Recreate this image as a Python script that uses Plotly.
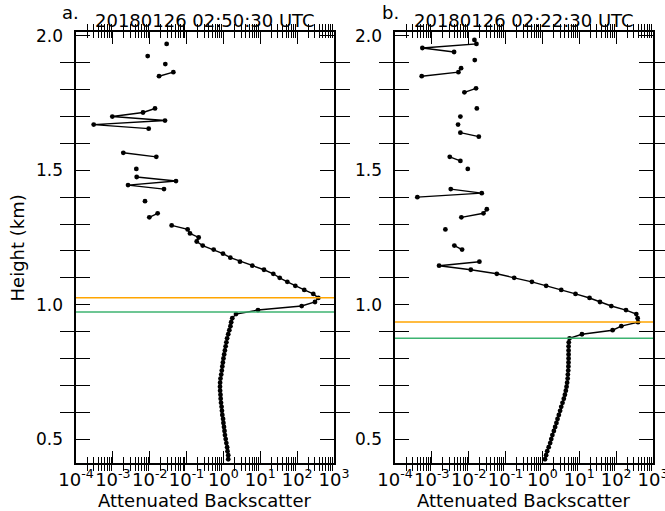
import plotly.graph_objects as go

# ---------------- data ----------------
heights = [0.425, 0.440, 0.455, 0.470, 0.485, 0.500, 0.515, 0.530, 0.545, 0.560,
           0.575, 0.590, 0.605, 0.620, 0.635, 0.650, 0.665, 0.680, 0.695, 0.710,
           0.725, 0.740, 0.755, 0.770, 0.785, 0.800, 0.815, 0.830, 0.845, 0.860,
           0.875, 0.890, 0.905, 0.920, 0.935, 0.950, 0.965, 0.980, 0.995, 1.010,
           1.025, 1.040, 1.055, 1.070, 1.085, 1.100, 1.115, 1.130, 1.145, 1.160,
           1.175, 1.190, 1.205, 1.220, 1.235, 1.250, 1.265, 1.280, 1.295, 1.310,
           1.325, 1.340, 1.355, 1.370, 1.385, 1.400, 1.415, 1.430, 1.445, 1.460,
           1.475, 1.490, 1.505, 1.520, 1.535, 1.550, 1.565, 1.580, 1.595, 1.610,
           1.625, 1.640, 1.655, 1.670, 1.685, 1.700, 1.715, 1.730, 1.745, 1.760,
           1.775, 1.790, 1.805, 1.820, 1.835, 1.850, 1.865, 1.880, 1.895, 1.910,
           1.925, 1.940, 1.955, 1.970, 1.985]

backscatter_a = [1.35, 1.35, 1.29, 1.26, 1.20, 1.15, 1.10, 1.07, 1.035, 1.00,
                 0.977, 0.933, 0.912, 0.891, 0.861, 0.841, 0.832, 0.813, 0.807, 0.813,
                 0.832, 0.871, 0.902, 0.933, 0.966, 1.00, 1.047, 1.096, 1.148, 1.202,
                 1.259, 1.349, 1.445, 1.549, 1.622, 1.738, 2.19, 8.67, 132.7, 304.8,
                 375.0, 274.0, 156.0, 89.1, 54.1, 33.6, 22.5, 12.6, 6.07, 2.81,
                 1.54, 0.973, 0.543, 0.274, 0.188, 0.213, 0.124, 0.107, 0.0394, None,
                 0.00975, 0.0164, None, None, 0.00745, None, None, 0.0244, 0.00258, 0.0516,
                 0.00443, None, 0.00433, None, None, 0.0151, 0.00192, None, None, None,
                 None, None, 0.00938, 0.000302, 0.0260, 0.000966, 0.00658, 0.0139, None, None,
                 None, None, None, None, None, 0.0179, 0.0437, None, 0.0265, None,
                 0.00881, None, None, 0.0288, None]

backscatter_b = [1.175, 1.259, 1.349, 1.479, 1.622, 1.738, 1.862, 2.042, 2.213, 2.399,
                 2.570, 2.786, 3.020, 3.236, 3.508, 3.802, 4.074, 4.315, 4.519, 4.677,
                 4.842, 4.898, 5.012, 5.070, 5.105, 5.129, 5.129, 5.129, 5.129, 5.188,
                 5.445, 11.8, 80.2, 138.0, 392.0, 383.0, 352.0, 185.0, 73.8, 36.4,
                 19.0, 7.91, 3.24, 1.26, 0.518, 0.171, 0.0579, 0.0114, 0.00157, 0.0195,
                 None, None, 0.00661, 0.00408, None, None, None, 0.00233, None, None,
                 0.00632, 0.0251, 0.0310, None, None, 0.000404, 0.0226, 0.00326, None, None,
                 None, None, 0.00944, None, 0.00594, 0.00306, None, None, None, None,
                 0.0188, 0.00594, None, 0.00514, None, 0.00594, None, 0.0166, None, None,
                 None, 0.00764, 0.0158, None, None, 0.000531, 0.00525, 0.00621, None, 0.0146,
                 None, 0.00401, 0.000552, 0.0162, 0.0143]

cloud_top_a = 1.026     # orange line
cloud_base_a = 0.973    # green line
cloud_top_b = 0.9356
cloud_base_b = 0.875

titles = ["20180126 02:50:30 UTC", "20180126 02:22:30 UTC"]
panel_labels = ["a.", "b."]

x_major = [1e-4, 1e-3, 1e-2, 1e-1, 1e0, 1e1, 1e2, 1e3]
x_major_text = ["10<sup>-4</sup>", "10<sup>-3</sup>", "10<sup>-2</sup>", "10<sup>-1</sup>",
                "10<sup>0</sup>", "10<sup>1</sup>", "10<sup>2</sup>", "10<sup>3</sup>"]
x_minor = [m * d for d in [1e-4, 1e-3, 1e-2, 1e-1, 1e0, 1e1, 1e2] for m in range(2, 10)]

y_major = [0.5, 1.0, 1.5, 2.0]
y_major_text = ["0.5", "1.0", "1.5", "2.0"]
y_minor = [0.6, 0.7, 0.8, 0.9, 1.1, 1.2, 1.3, 1.4, 1.6, 1.7, 1.8, 1.9]

ORANGE = "#ffa500"
GREEN = "#3cb371"
FONT = "DejaVu Sans"
TICKC = "black"

X_RANGE = [-4, 3]
Y_RANGE = [0.411, 2.0145]
Y_DOMAIN = [0.09393, 0.93738]

# ---------------- figure ----------------
fig = go.Figure()

panels = [
    ("x", "y", "x3", "y3", backscatter_a, cloud_top_a, cloud_base_a),
    ("x2", "y2", "x4", "y4", backscatter_b, cloud_top_b, cloud_base_b),
]
for xa, ya, xo, yo, vals, top, base in panels:
    fig.add_trace(go.Scatter(
        x=vals, y=heights, mode="lines+markers", xaxis=xa, yaxis=ya,
        line=dict(color="black", width=1.4),
        marker=dict(color="black", size=4.8),
        connectgaps=False, showlegend=False, hoverinfo="skip"))
    fig.add_trace(go.Scatter(
        x=[1e-4, 1e3], y=[top, top], mode="lines", xaxis=xo, yaxis=ya,
        line=dict(color=ORANGE, width=1.6), showlegend=False, hoverinfo="skip"))
    fig.add_trace(go.Scatter(
        x=[1e-4, 1e3], y=[base, base], mode="lines", xaxis=xa, yaxis=yo,
        line=dict(color=GREEN, width=1.6), showlegend=False, hoverinfo="skip"))


def x_base(domain, anchor):
    # minor ticks + frame
    return dict(
        domain=domain, anchor=anchor, type="log", range=X_RANGE,
        tickmode="array", tickvals=x_minor, showticklabels=False,
        ticks="inside", ticklen=6, tickwidth=1.0, tickcolor=TICKC,
        showline=True, linecolor="black", linewidth=1.7, mirror="allticks",
        showgrid=False, zeroline=False,
    )


def x_over(overlay, anchor):
    # major ticks + labels
    return dict(
        overlaying=overlay, anchor=anchor, side="bottom", type="log", range=X_RANGE,
        tickmode="array", tickvals=x_major, ticktext=x_major_text, tickangle=0,
        ticks="inside", ticklen=12, tickwidth=1.3, tickcolor=TICKC,
        showline=False, mirror="allticks", showgrid=False, zeroline=False,
        tickfont=dict(family=FONT, size=18, color="black"),
        ticklabelstandoff=4, ticklabeloverflow="allow",
    )


def y_base(anchor):
    return dict(
        domain=Y_DOMAIN, anchor=anchor, range=Y_RANGE,
        tickmode="array", tickvals=y_minor, showticklabels=False,
        ticks="inside", ticklen=14, tickwidth=1.3, tickcolor=TICKC,
        showline=True, linecolor="black", linewidth=1.7, mirror="allticks",
        showgrid=False, zeroline=False,
    )


def y_over(overlay, anchor):
    return dict(
        overlaying=overlay, anchor=anchor, side="left", range=Y_RANGE,
        tickmode="array", tickvals=y_major, ticktext=y_major_text,
        ticks="inside", ticklen=14, tickwidth=1.3, tickcolor=TICKC,
        showline=False, mirror="allticks", showgrid=False, zeroline=False,
        tickfont=dict(family=FONT, size=17, color="black"),
        ticklabelstandoff=12,
    )


fig.update_layout(
    width=665, height=511,
    margin=dict(l=0, r=0, t=0, b=0, autoexpand=False),
    paper_bgcolor="white", plot_bgcolor="white",
    xaxis=x_base([0.11429, 0.50226], "y"),
    xaxis2=x_base([0.59398, 0.98195], "y2"),
    xaxis3=x_over("x", "y"),
    xaxis4=x_over("x2", "y2"),
    yaxis=y_base("x"),
    yaxis2=y_base("x2"),
    yaxis3=y_over("y", "x"),
    yaxis4=y_over("y2", "x2"),
    font=dict(family=FONT, color="black"),
    showlegend=False,
)

ann = []
for i, (cx, lx) in enumerate([(0.3083, 0.0902), (0.788, 0.5714)]):
    ann.append(dict(text=titles[i], x=cx, y=0.9595, xref="paper", yref="paper",
                    xanchor="center", yanchor="middle", showarrow=False,
                    font=dict(family=FONT, size=18, color="black")))
    ann.append(dict(text=panel_labels[i], x=lx, y=0.975, xref="paper", yref="paper",
                    xanchor="left", yanchor="middle", showarrow=False,
                    font=dict(family=FONT, size=18, color="black")))
    ann.append(dict(text="Attenuated Backscatter", x=cx, y=0.0196, xref="paper", yref="paper",
                    xanchor="center", yanchor="middle", showarrow=False,
                    font=dict(family=FONT, size=18, color="black")))
ann.append(dict(text="Height (km)", x=0.027, y=0.5157, xref="paper", yref="paper",
                xanchor="center", yanchor="middle", textangle=-90, showarrow=False,
                font=dict(family=FONT, size=18, color="black")))
fig.update_layout(annotations=ann)

fig.write_html("out.html", post_script="document.body.style.margin='0';")
